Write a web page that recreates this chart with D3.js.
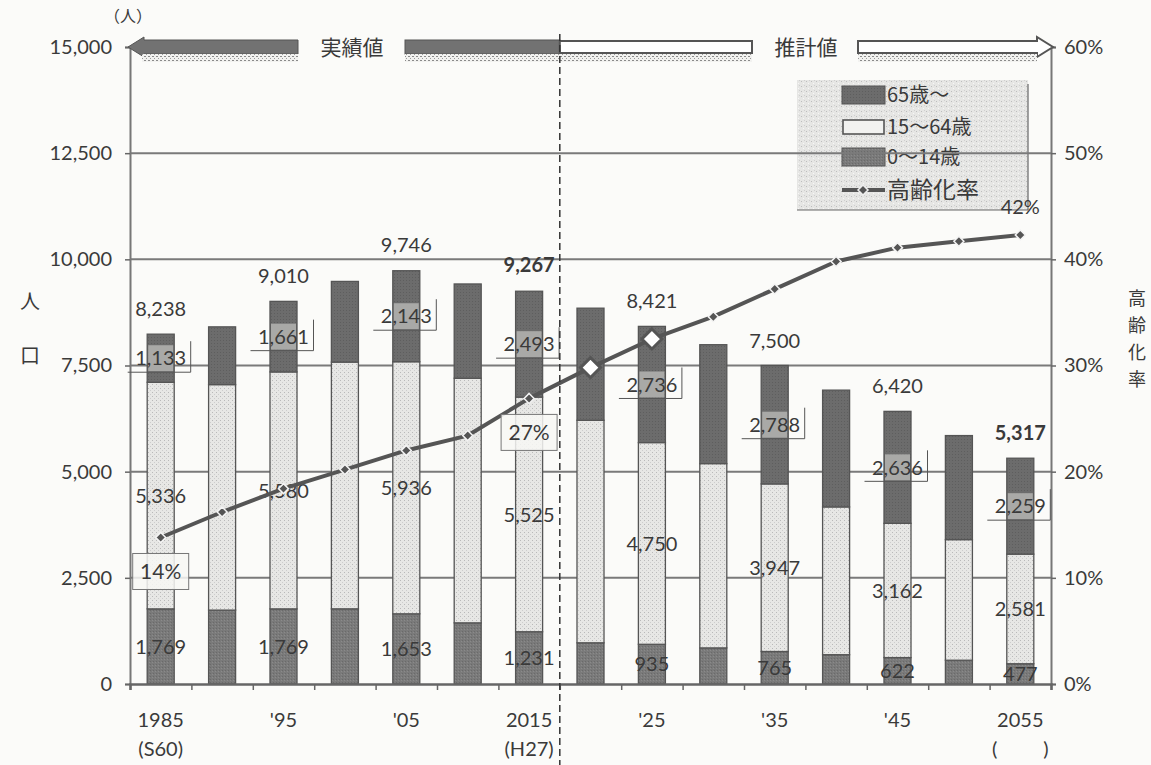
<!DOCTYPE html>
<html>
<head>
<meta charset="utf-8">
<script src="https://cdn.jsdelivr.net/npm/d3@7"></script>
<style>
  html, body { margin: 0; padding: 0; background: #fbfbf9; }
  svg { display: block; }
  text { font-family: Lato, "Noto Sans CJK JP", sans-serif; fill: #3a3a3a; }
  .jp { font-family: "Noto Sans CJK JP", sans-serif; }
</style>
</head>
<body>
<svg id="chart" width="1151" height="765"></svg>
<script>
// Population by age group (persons) and aging rate (%), census years and projections
const years      = [1985, 1990, 1995, 2000, 2005, 2010, 2015, 2020, 2025, 2030, 2035, 2040, 2045, 2050, 2055];
const yearLabels = ["1985", "", "'95", "", "'05", "", "2015", "", "'25", "", "'35", "", "'45", "", "2055"];
const eraLabels  = ["(S60)", "", "", "", "", "", "(H27)", "", "", "", "", "", "", "", "(\u00a0\u00a0\u00a0\u00a0\u00a0\u00a0\u00a0\u00a0\u00a0)"];
const pop0to14   = [1769, 1740, 1769, 1770, 1653, 1440, 1231,  970,  935,  850,  765,  690,  622,  560,  477];
const pop15to64  = [5336, 5310, 5580, 5810, 5936, 5760, 5525, 5240, 4750, 4340, 3947, 3480, 3162, 2840, 2581];
const pop65plus  = [1133, 1360, 1661, 1900, 2143, 2220, 2493, 2640, 2736, 2800, 2788, 2750, 2636, 2450, 2259];
// totals include persons of unknown age in census years
const totalPop   = [8238, null, 9010, null, 9746, null, 9267, null, 8421, null, 7500, null, 6420, null, 5317];
const agingRate  = [13.8, 16.2, 18.4, 20.2, 22.0, 23.4, 26.9, 29.8, 32.5, 34.6, 37.2, 39.8, 41.1, 41.7, 42.3];
const rateLabelYears = [1985, 2015, 2055];
const hollowYears    = [2020, 2025];
const boldYears      = [2015, 2055];
const leftTicks  = [0, 2500, 5000, 7500, 10000, 12500, 15000];
const rightTicks = [0, 10, 20, 30, 40, 50, 60];
const seriesNames = ["65歳〜", "15〜64歳", "0〜14歳", "高齢化率"];
const lastActualYear = 2015;

(function draw() {
const rows = years.map((yr, i) => ({
  year: yr, i,
  a0: pop0to14[i], a15: pop15to64[i], a65: pop65plus[i],
  total: totalPop[i], rate: agingRate[i]
}));

const svg = d3.select("#chart");
const pL = 130, pR = 1051, pT = 47, pB = 684;

const x = d3.scaleBand().domain(years).range([pL, pR]).padding(0);
const barW = x.bandwidth() * 0.44;
const cx = yr => x(yr) + x.bandwidth() / 2;
const y = d3.scaleLinear().domain([0, 15000]).range([pB, pT]);
const yR = d3.scaleLinear().domain([0, 60]).range([pB, pT]);
const fmt = d3.format(",");
// square diamond marker (a square turned 45 degrees)
const diamond = half => `M0,${-half}L${half},0L0,${half}L${-half},0Z`;

// ---- patterns ----
const defs = svg.append("defs");
function pattern(id, size, base, specks) {
  const p = defs.append("pattern").attr("id", id).attr("patternUnits", "userSpaceOnUse")
    .attr("width", size).attr("height", size);
  p.append("rect").attr("width", size).attr("height", size).attr("fill", base);
  specks.forEach(([sx, sy, w, c]) => p.append("rect").attr("x", sx).attr("y", sy)
    .attr("width", w).attr("height", 1).attr("fill", c));
}
pattern("stip15", 4, "#e7e7e5", [[0, 0, 1, "#b9b9b9"], [2, 2, 1, "#cdcdcd"]]);
pattern("dark65", 3, "#6c6c6c", [[1, 1, 1, "#5e5e5e"]]);
pattern("dark014", 3, "#7a7a7a", [[0, 1, 1, "#6a6a6a"], [2, 2, 1, "#8a8a8a"]]);
pattern("legfill", 5, "#e6e6e4", [[1, 1, 1, "#bdbdbd"], [3, 3, 1, "#f7f7f7"], [4, 0, 1, "#cfcfcf"]]);
pattern("dots", 4, "#f2f2f0", [[0, 0, 2, "#8a8a8a"], [2, 2, 1, "#9a9a9a"]]);

const fills = { a65: "url(#dark65)", a15: "url(#stip15)", a0: "url(#dark014)" };

// ---- legend (drawn under the gridlines) ----
const lg = svg.append("g");
lg.append("rect").attr("x", 797).attr("y", 80).attr("width", 231).attr("height", 130).attr("fill", "url(#legfill)");
lg.append("line").attr("x1", 1028).attr("x2", 1028).attr("y1", 84).attr("y2", 210).attr("stroke", "#666").attr("stroke-width", 1.2);
lg.append("line").attr("x1", 797).attr("x2", 1028).attr("y1", 210).attr("y2", 210).attr("stroke", "#666").attr("stroke-width", 1.2);
const legRows = [
  { name: seriesNames[0], y: 95, kind: "a65" },
  { name: seriesNames[1], y: 127, kind: "a15" },
  { name: seriesNames[2], y: 157, kind: "a0" },
  { name: seriesNames[3], y: 190, kind: "line" }
];
legRows.forEach(r => {
  if (r.kind === "line") {
    lg.append("line").attr("x1", 842).attr("x2", 885).attr("y1", r.y).attr("y2", r.y)
      .attr("stroke", "#555").attr("stroke-width", 4);
    lg.append("path").attr("d", diamond(5))
      .attr("transform", `translate(863,${r.y})`).attr("fill", "#555").attr("stroke", "#eee").attr("stroke-width", 1.5);
  } else if (r.kind === "a15") {
    lg.append("rect").attr("x", 843).attr("y", r.y - 7).attr("width", 41).attr("height", 14)
      .attr("fill", "#f2f2f0").attr("stroke", "#555").attr("stroke-width", 1.6);
  } else {
    lg.append("rect").attr("x", 842).attr("y", r.y - 9).attr("width", 43).attr("height", 18)
      .attr("fill", fills[r.kind]).attr("stroke", "#555").attr("stroke-width", 1);
  }
  lg.append("text").attr("class", "jp").attr("x", 887).attr("y", r.y).attr("dy", "0.36em")
    .attr("font-size", r.kind === "line" ? 23 : 20).attr("fill", "#333").text(r.name);
});

// ---- gridlines ----
svg.append("g").selectAll("line").data(leftTicks.filter(t => t > 0 && t < 15000)).join("line")
  .attr("x1", pL).attr("x2", pR).attr("y1", d => y(d)).attr("y2", d => y(d))
  .attr("stroke", "#7a7a7a").attr("stroke-width", 2);

// ---- stacked bars ----
const keys = ["a0", "a15", "a65"];
const stacked = d3.stack().keys(keys)(rows);
const barG = svg.append("g");
stacked.forEach(layer => {
  barG.append("g").selectAll("rect").data(layer).join("rect")
    .attr("x", d => cx(d.data.year) - barW / 2)
    .attr("width", barW)
    .attr("y", d => y(d[1]))
    .attr("height", d => y(d[0]) - y(d[1]))
    .attr("fill", fills[layer.key])
    .attr("stroke", "#555").attr("stroke-width", 1.3);
});

// ---- axes ----
const axL = svg.append("g").attr("transform", `translate(${pL},0)`)
  .call(d3.axisLeft(y).tickValues(leftTicks).tickFormat(fmt).tickSize(5).tickPadding(13));
const axR = svg.append("g").attr("transform", `translate(${pR},0)`)
  .call(d3.axisRight(yR).tickValues(rightTicks).tickFormat(d => d + "%").tickSize(5).tickPadding(8));
const xi = d3.scaleLinear().domain([0, years.length]).range([pL, pR]);
const axB = svg.append("g").attr("transform", `translate(0,${pB})`)
  .call(d3.axisBottom(xi).tickValues(d3.range(years.length + 1)).tickFormat("").tickSize(6));
[axL, axR, axB].forEach(g => {
  g.select(".domain").attr("stroke", "#777").attr("stroke-width", 2);
  g.selectAll(".tick line").attr("stroke", "#666").attr("stroke-width", 1.5);
  g.selectAll(".tick text").attr("font-size", 20).attr("fill", "#3a3a3a")
    .style("font-family", "Lato, sans-serif");
});
axB.select(".domain").attr("stroke", "#666").attr("stroke-width", 2.5);

// x labels
svg.append("g").selectAll("text").data(rows.filter(d => yearLabels[d.i])).join("text")
  .attr("x", d => cx(d.year)).attr("y", 727).attr("text-anchor", "middle")
  .attr("font-size", 20).text(d => yearLabels[d.i]);
svg.append("g").selectAll("text").data(rows.filter(d => eraLabels[d.i])).join("text")
  .attr("x", d => cx(d.year)).attr("y", 756).attr("text-anchor", "middle")
  .attr("font-size", 20).text(d => eraLabels[d.i]);

// axis titles
svg.append("text").attr("class", "jp").attr("x", 128).attr("y", 22).attr("text-anchor", "middle")
  .attr("font-size", 16).text("（人）");
["人", "口"].forEach((ch, k) => {
  svg.append("text").attr("class", "jp").attr("x", 30).attr("y", 302 + k * 54).attr("dy", "0.36em")
    .attr("text-anchor", "middle").attr("font-size", 20).text(ch);
});
["高", "齢", "化", "率"].forEach((ch, k) => {
  svg.append("text").attr("class", "jp").attr("x", 1137).attr("y", 299 + k * 27).attr("dy", "0.36em")
    .attr("text-anchor", "middle").attr("font-size", 18).text(ch);
});

// ---- segment value labels ----
const labelled = rows.filter(d => d.total !== null);
const segLayers = { a0: stacked[0], a15: stacked[1], a65: stacked[2] };
const segG = svg.append("g");
labelled.forEach(d => {
  keys.forEach(k => {
    const s = segLayers[k][d.i];
    const cy = (y(s[0]) + y(s[1])) / 2;
    const c = cx(d.year);
    if (k === "a65") {
      segG.append("rect").attr("x", c - barW / 2 + 1).attr("width", barW - 2)
        .attr("y", cy - 13).attr("height", 26).attr("fill", "#a9a9a7");
      segG.append("path")
        .attr("d", `M${c - 33},${cy + 14}H${c + 30}V${cy - 17}`)
        .attr("fill", "none").attr("stroke", "#555").attr("stroke-width", 1);
    }
    segG.append("text").attr("x", c).attr("y", cy).attr("dy", "0.36em")
      .attr("text-anchor", "middle").attr("font-size", 20).attr("fill", "#3a3a3a")
      .text(fmt(d[k]));
  });
});

// ---- aging rate line ----
const line = d3.line().x(d => cx(d.year)).y(d => yR(d.rate));
svg.append("path").datum(rows).attr("d", line)
  .attr("fill", "none").attr("stroke", "#555").attr("stroke-width", 4).attr("stroke-linejoin", "round");
svg.append("g").selectAll("path").data(rows).join("path")
  .attr("d", d => hollowYears.includes(d.year) ? diamond(10) : diamond(5))
  .attr("transform", d => `translate(${cx(d.year)},${yR(d.rate)})`)
  .attr("fill", d => hollowYears.includes(d.year) ? "#ffffff" : "#555")
  .attr("stroke", d => hollowYears.includes(d.year) ? "#555" : "#f4f4f4")
  .attr("stroke-width", d => hollowYears.includes(d.year) ? 3 : 1.5);

// rate labels
rows.filter(d => rateLabelYears.includes(d.year)).forEach(d => {
  const c = cx(d.year), py = yR(d.rate);
  const txt = d3.format(".0f")(d.rate) + "%";
  if (d.year === years[years.length - 1]) {
    svg.append("text").attr("x", c).attr("y", py - 28).attr("dy", "0.36em")
      .attr("text-anchor", "middle").attr("font-size", 20).text(txt);
  } else {
    const ly = py + 34;
    svg.append("rect").attr("x", c - 28).attr("y", ly - 18).attr("width", 56).attr("height", 36)
      .attr("fill", "#f7f7f5").attr("fill-opacity", 0.85).attr("stroke", "#777").attr("stroke-width", 1);
    svg.append("text").attr("x", c).attr("y", ly).attr("dy", "0.36em")
      .attr("text-anchor", "middle").attr("font-size", 21).text(txt);
  }
});

// ---- total labels ----
svg.append("g").selectAll("text").data(labelled).join("text")
  .attr("x", d => cx(d.year))
  .attr("y", d => y(Math.max(d.total, d.a0 + d.a15 + d.a65)) - 18)
  .attr("text-anchor", "middle").attr("font-size", 20)
  .attr("font-weight", d => boldYears.includes(d.year) ? 700 : 400)
  .text(d => fmt(d.total));

// ---- actual / projected banner ----
const split = x(years[years.indexOf(lastActualYear) + 1]);
const by = pT, bh = 7;
const ban = svg.append("g");
// left arrow (actual values)
ban.append("path")
  .attr("d", `M${pL - 2},${by} L${pL + 14},${by - 10} V${by - bh} H298 V${by + bh} H${pL + 14} V${by + 10} Z`)
  .attr("fill", "#727272").attr("stroke", "#555").attr("stroke-width", 1);
ban.append("rect").attr("x", pL + 12).attr("y", by + bh).attr("width", 298 - pL - 12).attr("height", 8).attr("fill", "url(#dots)");
ban.append("text").attr("class", "jp").attr("x", 352).attr("y", by).attr("dy", "0.36em")
  .attr("text-anchor", "middle").attr("font-size", 21).text("実績値");
ban.append("rect").attr("x", 405).attr("y", by - bh).attr("width", split - 405).attr("height", bh * 2)
  .attr("fill", "#727272").attr("stroke", "#555").attr("stroke-width", 1);
ban.append("rect").attr("x", 405).attr("y", by + bh).attr("width", split - 405).attr("height", 8).attr("fill", "url(#dots)");
// right arrow (projected values)
ban.append("rect").attr("x", split).attr("y", by - bh + 1).attr("width", 752 - split).attr("height", bh * 2 - 2)
  .attr("fill", "#ffffff").attr("stroke", "#555").attr("stroke-width", 2);
ban.append("rect").attr("x", split).attr("y", by + bh).attr("width", 752 - split).attr("height", 8).attr("fill", "url(#dots)");
ban.append("text").attr("class", "jp").attr("x", 806).attr("y", by).attr("dy", "0.36em")
  .attr("text-anchor", "middle").attr("font-size", 21).text("推計値");
ban.append("path")
  .attr("d", `M858,${by - bh + 1} H${pR - 14} V${by - 10} L${pR + 2},${by} L${pR - 14},${by + 10} V${by + bh - 1} H858 Z`)
  .attr("fill", "#ffffff").attr("stroke", "#555").attr("stroke-width", 2);
ban.append("rect").attr("x", 858).attr("y", by + bh).attr("width", pR - 14 - 858).attr("height", 8).attr("fill", "url(#dots)");

// divider between actual and projected
svg.append("line").attr("x1", split).attr("x2", split).attr("y1", 34).attr("y2", 765)
  .attr("stroke", "#333").attr("stroke-width", 1.5).attr("stroke-dasharray", "7,4");
})();
</script>
</body>
</html>
